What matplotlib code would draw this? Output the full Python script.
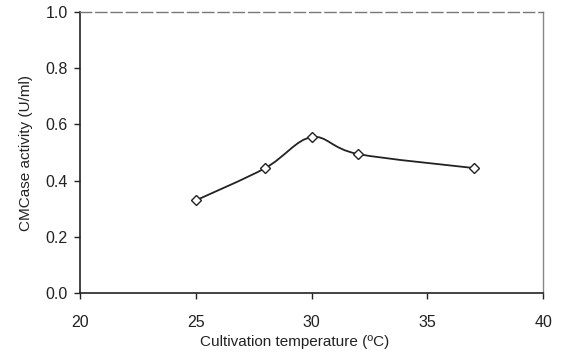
import numpy as np
import matplotlib
matplotlib.use("Agg")
import matplotlib.pyplot as plt
from matplotlib.path import Path
from matplotlib.patches import PathPatch

plt.rcParams['font.family'] = ['Liberation Sans', 'DejaVu Sans']

temperature = [25, 28, 30, 32, 37]
activity = [0.33, 0.445, 0.555, 0.495, 0.445]

x_ticks = [20, 25, 30, 35, 40]
y_ticks = [0.0, 0.2, 0.4, 0.6, 0.8, 1.0]

fig = plt.figure(figsize=(5.64, 3.54), dpi=100)
ax = fig.add_axes([0.142, 0.172, 0.821, 0.794])


def smooth_path(xs, ys, tension=1 / 6):
    """Catmull-Rom style cubic Bezier path through the data points."""
    pts = np.column_stack([xs, ys]).astype(float)
    verts = [pts[0]]
    codes = [Path.MOVETO]
    n = len(pts)
    for i in range(n - 1):
        p0 = pts[i - 1] if i > 0 else pts[i]
        p1 = pts[i]
        p2 = pts[i + 1]
        p3 = pts[i + 2] if i + 2 < n else pts[i + 1]
        c1 = p1 + (p2 - p0) * tension
        c2 = p2 - (p3 - p1) * tension
        verts += [c1, c2, p2]
        codes += [Path.CURVE4] * 3
    return Path(verts, codes)


ax.add_patch(PathPatch(smooth_path(temperature, activity), facecolor='none',
                       edgecolor='#222222', lw=1.3, zorder=2))
ax.plot(temperature, activity, linestyle='none', marker='D', markersize=5,
        markerfacecolor='white', markeredgecolor='#222222', markeredgewidth=1.0,
        zorder=3)

ax.set_xlim(20, 40)
ax.set_ylim(0, 1.0)
ax.set_xticks(x_ticks)
ax.set_yticks(y_ticks)
ax.set_xticklabels([str(v) for v in x_ticks])
ax.set_yticklabels([f"{v:.1f}" for v in y_ticks])
ax.tick_params(direction='out', length=4, width=1, labelsize=11.5, colors='#222222')
ax.tick_params(axis='x', pad=12)
ax.tick_params(axis='y', pad=5)

for side in ['left', 'bottom']:
    ax.spines[side].set_color('#222222')
    ax.spines[side].set_linewidth(1.2)
ax.spines['right'].set_color('#888888')
ax.spines['right'].set_linewidth(1.0)
ax.spines['top'].set_color('#777777')
ax.spines['top'].set_linewidth(1.0)
ax.spines['top'].set_linestyle((0, (8, 3)))

ax.set_xlabel('Cultivation temperature (ºC)', fontsize=11, color='#222222')
ax.xaxis.set_label_coords(0.464, -0.15)
ax.set_ylabel('CMCase activity (U/ml)', fontsize=11, color='#222222',
              labelpad=9)

fig.savefig('out.png', dpi=100)
